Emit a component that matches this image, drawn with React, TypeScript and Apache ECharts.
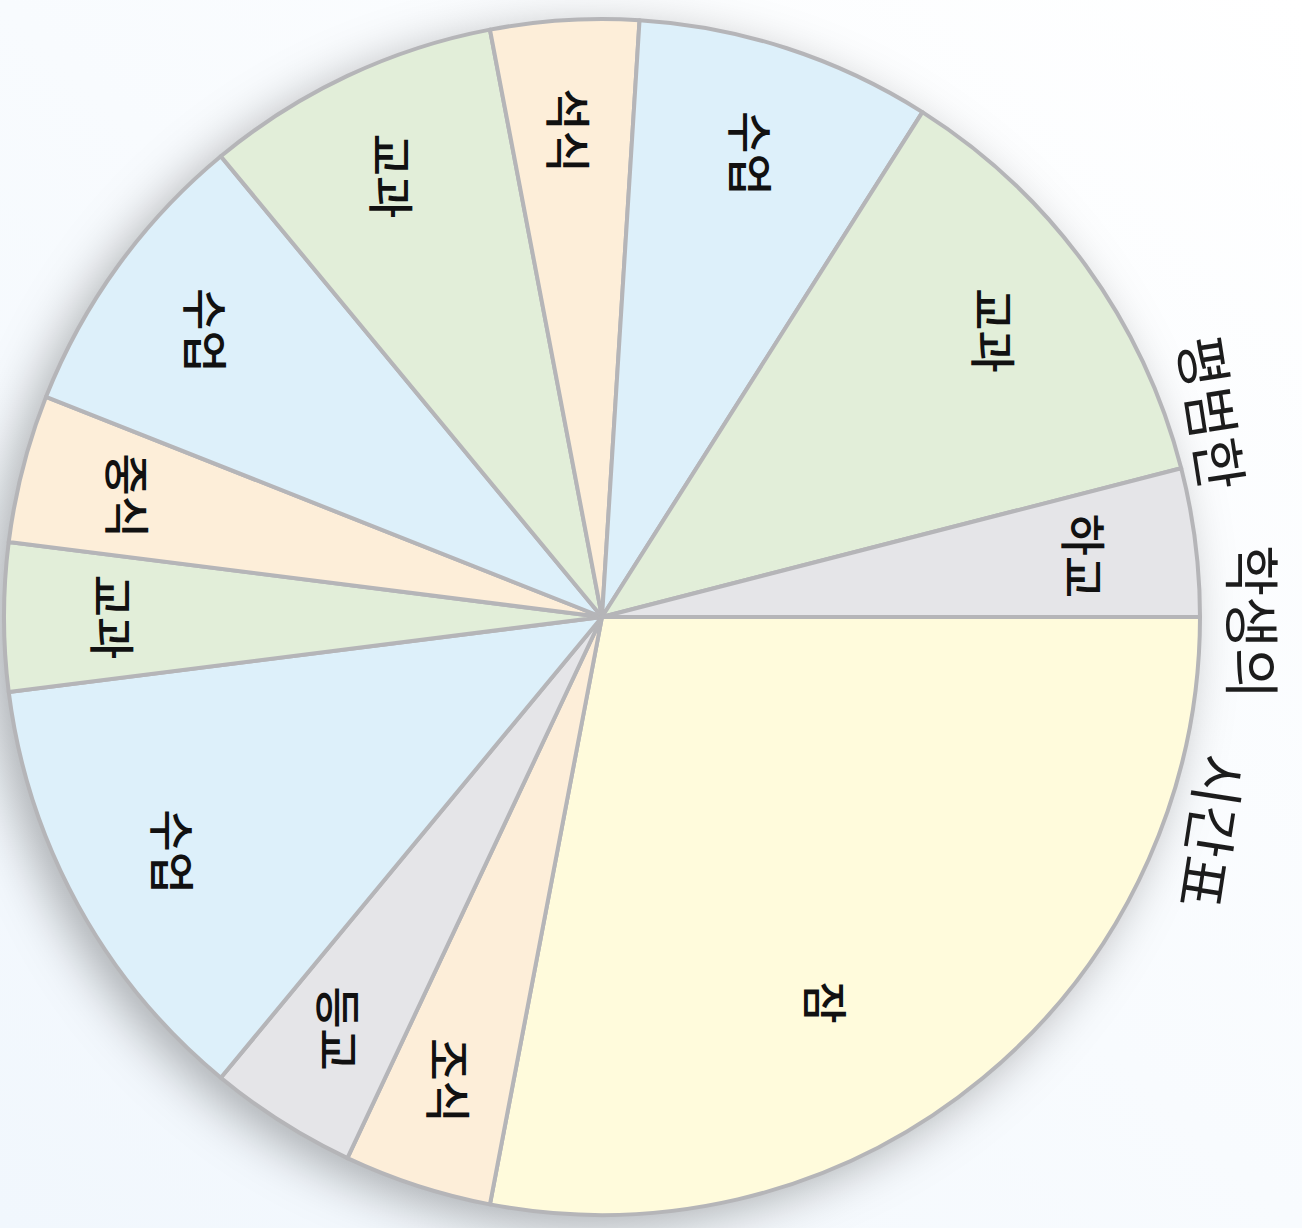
import React, { useEffect, useRef } from "react";
import * as echarts from "echarts";

const TITLE_WORDS = ["평범한", "학생의", "시간표"];
// activities, clockwise from the right (east) edge of the rotated chart
const activities = ["잠", "조식", "등교", "수업", "교과", "중식", "수업", "교과", "석식", "수업", "교과", "하교"];
const hours = [7, 1, 1, 3, 1, 1, 2, 2, 1, 2, 3, 1];
const kinds = ["sleep", "meal", "move", "class", "study", "meal", "class", "study", "meal", "class", "study", "move"];

const kindColors: Record<string, string> = {
  sleep: "#fffbdc",
  meal: "#fdeed9",
  move: "#e5e5e8",
  class: "#ddf0fa",
  study: "#e2eed9",
};

export default function App() {
  const ref = useRef<HTMLDivElement>(null);
  useEffect(() => {
    document.body.style.margin = "0";
    const chart = echarts.init(ref.current!, undefined, { renderer: "svg" });
    const cx = 602;
    const cy = 617;
    const r = 598;
    // title arc
    const tcx = 695;
    const tcy = 622;
    const tR = 560;
    const tStep = (22 * Math.PI) / 180;
    const tiltFactor = 0.4;
    const data = activities.map((name, i) => ({
      name,
      value: hours[i],
      itemStyle: { color: kindColors[kinds[i]] },
    }));
    const titleGraphics = TITLE_WORDS.map((w, i) => {
      const th = tStep * (1 - i);
      return {
        type: "text",
        x: tcx + tR * Math.cos(th),
        y: tcy - tR * Math.sin(th),
        rotation: -(Math.PI / 2 - th * tiltFactor),
        style: {
          text: w,
          fontSize: 56,
          fontFamily: "Noto Sans CJK KR",
          fontWeight: 400,
          fill: "#1c1c1c",
          align: "center",
          verticalAlign: "middle",
        },
        z: 10,
      };
    });
    chart.setOption({
      animation: false,
      backgroundColor: {
        type: "linear",
        x: 1,
        y: 0,
        x2: 0,
        y2: 1,
        colorStops: [
          { offset: 0, color: "#ffffff" },
          { offset: 1, color: "#f1f7fd" },
        ],
      },
      graphic: titleGraphics,
      series: [
        {
          type: "pie",
          z: 1,
          center: [cx, cy],
          radius: [0, r],
          silent: true,
          label: { show: false },
          labelLine: { show: false },
          data: [{ value: 1, name: "" }],
          itemStyle: {
            color: "#ffffff",
            shadowBlur: 50,
            shadowColor: "rgba(0,0,0,0.3)",
            shadowOffsetX: -14,
            shadowOffsetY: 12,
          },
        },
        {
          type: "pie",
          z: 2,
          center: [cx, cy],
          radius: [0, r],
          startAngle: 0,
          clockwise: true,
          silent: true,
          label: { show: false },
          labelLine: { show: false },
          itemStyle: { borderColor: "#b5b5b8", borderWidth: 4 },
          data,
        },
        {
          type: "pie",
          z: 3,
          center: [cx, cy],
          radius: [r * 0.62, r],
          startAngle: 0,
          clockwise: true,
          silent: true,
          itemStyle: { color: "rgba(0,0,0,0)", borderWidth: 0 },
          label: {
            show: true,
            position: "inside",
            rotate: -90,
            fontSize: 46,
            fontFamily: "Noto Sans CJK KR",
            fontWeight: 500,
            color: "#111111",
            formatter: (p: any) => p.name,
          },
          labelLayout: (p: any) => (p.dataIndex === 0 ? { dx: 10, dy: 85 } : {}),
          labelLine: { show: false },
          data: activities.map((name, i) => ({ name, value: hours[i] })),
        },
      ],
    });
    return () => chart.dispose();
  }, []);
  return <div ref={ref} style={{ width: 1302, height: 1228 }} />;
}
